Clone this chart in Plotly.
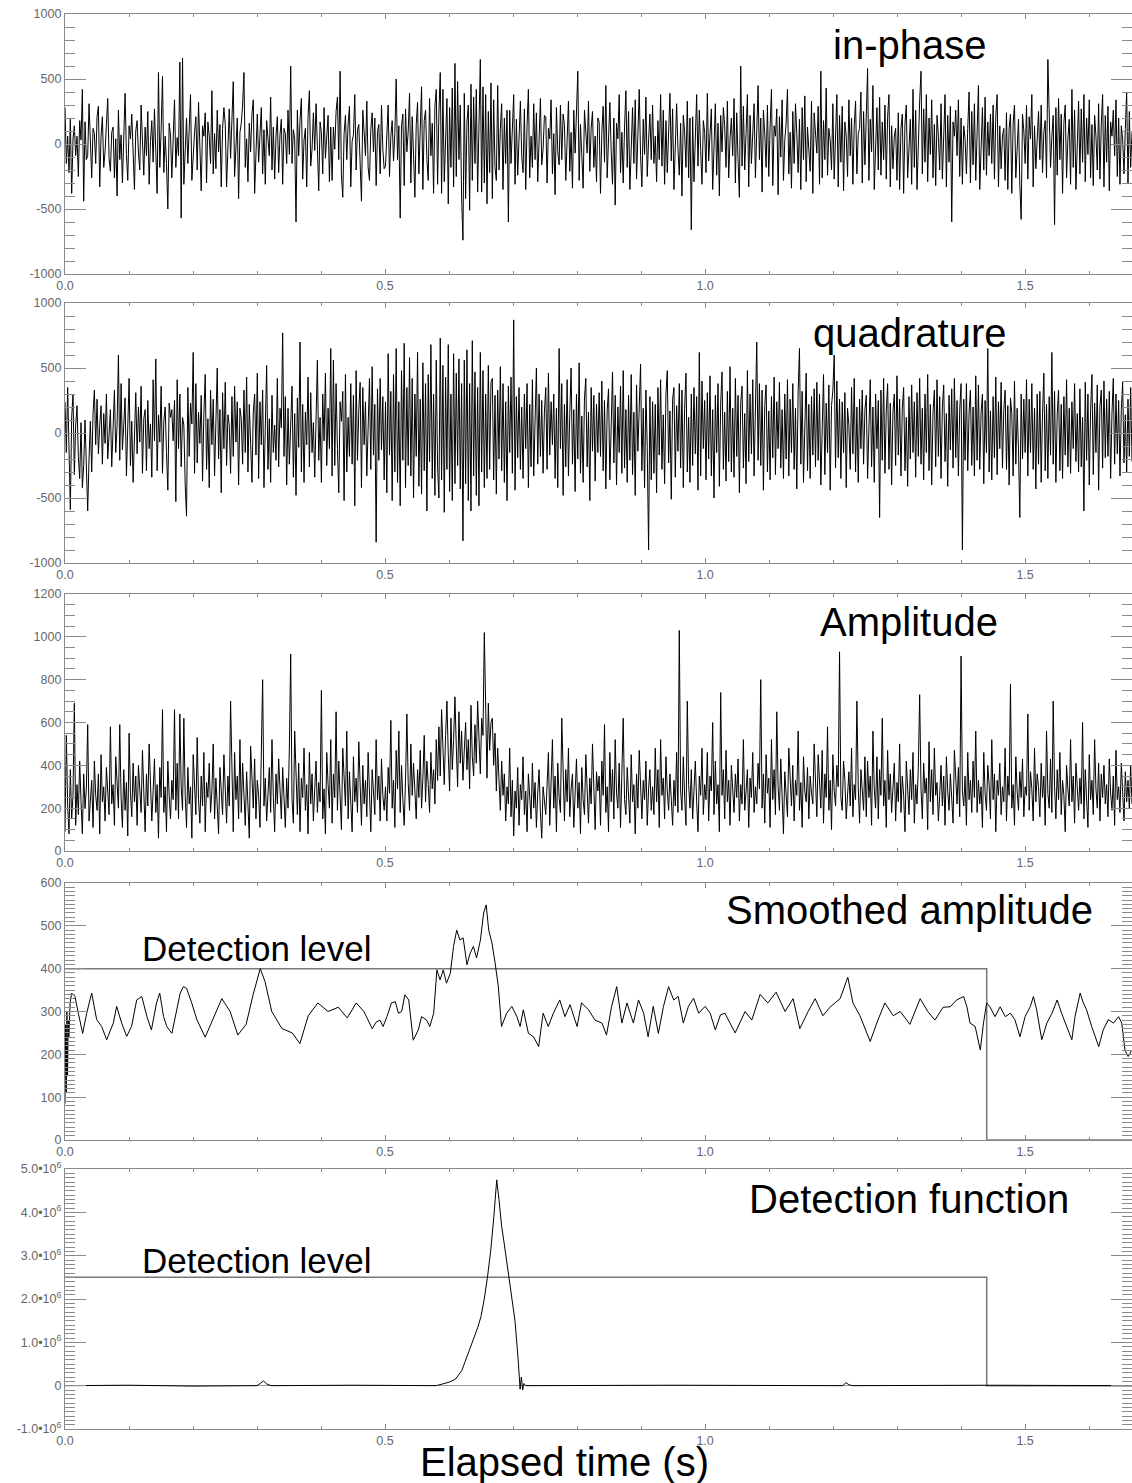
import numpy as np
import plotly.graph_objects as go

# ---------------- data ----------------
T_MAX = 1.667             # s, right edge of the time axis (last raw sample)

inphase = [
    280, -150, 60, -220, 190, -380, 40, 140, -90, 60, -250, 180, 30, 420, -440, 170, -120, -90, 310, -60,
    -260, 120, 80, -150, 210, 290, -330, 60, 210, -180, -60, 150, 350, -110, -210, 90, 130, -260, 40, -400,
    260, -120, 70, -300, 180, 390, -80, -280, 140, 40, 230, -170, -350, 100, 180, -70, -200, 300, 60, -240,
    130, -90, 250, -310, 20, 180, -140, 270, -60, -380, 550, -180, 110, 520, -220, 60, -150, -500, 160, 70,
    -260, 100, 340, -180, 50, -90, 630, -570, 660, -310, 40, 200, -150, 90, 380, -280, -40, 90, 210, -200,
    320, -120, -360, 140, 60, 240, -300, 170, 60, -150, 410, -230, 80, -190, 260, -60, 150, -330, 120, 280,
    150, -330, 20, 270, -110, 190, 480, -250, -70, 200, -420, 90, 160, 300, 550, -180, 40, -290, 160, -60,
    230, 340, -380, -120, 230, -140, 70, 280, -230, 110, -310, 180, 40, -90, 360, -200, 130, -270, 60, 210,
    -220, 70, 190, -310, 120, 80, -150, 260, -80, 600, -150, 110, 40, -600, 260, -90, 180, 350, -270, 30,
    120, -330, 210, 410, -170, -40, 240, -50, 310, -140, -360, 170, 90, -230, 280, -110, 60, 220, -290, 130,
    -280, 130, -40, 250, 360, -120, 560, -240, -410, 80, 220, -120, 150, 290, -330, 20, 70, 380, -200, 110,
    150, -90, -440, 260, 60, -90, 330, -180, -280, 110, 240, -60, 200, -320, 90, 150, -230, 300, -40, -190,
    -170, 120, 300, -250, 60, 180, -130, 80, 500, -120, 140, -570, 140, 230, -320, 270, -60, 100, 390, -300,
    210, -80, -410, 150, 320, -230, 40, 440, -350, 180, 260, -120, -280, 350, -90, 160, -380, 290, 420, -310,
    240, 550, -380, 420, -290, 150, 350, -460, 280, -180, 430, -330, 620, -250, 480, -120, 300, -410, -740, 390,
    -420, 170, 300, -510, 460, -280, 360, -150, 420, -370, 200, 650, -370, 440, -300, 380, -460, 250, -220, 470,
    -420, 340, -180, -280, 450, -200, 120, 310, -350, 200, -150, 260, -600, 260, -150, 80, 380, -310, 190, -240,
    70, 330, -90, -220, 270, -350, 140, 420, -260, 60, -180, 310, -120, 240, -290, 90, 350, -160, -40, 220,
    210, -300, 120, 40, 340, -230, 80, -390, 280, -60, -160, 300, -120, 230, 150, -280, 60, 330, -210, 90,
    -340, 260, -70, 180, 560, -280, 150, -80, -340, 260, 40, -70, 330, -210, 120, 250, -180, 60, -290, 200,
    170, -380, 90, 290, -140, 450, -260, 100, 320, -60, -310, 200, -470, 160, 40, 380, -220, 90, -300, 130,
    410, -180, 250, -350, 60, 280, -150, 340, -270, 130, 420, -90, -330, 190, -80, 360, -250, 30, 230, -120,
    300, -150, 60, -290, 180, -120, 380, -170, 260, -310, 180, -220, 60, 390, -130, 270, -350, 100, 310, -40,
    -240, 160, -400, 220, 90, -180, 330, -260, 200, -660, 210, -290, 120, 380, -170, 260, -50, -310, 180, 90,
    -220, 390, -130, 50, 270, -350, 100, 310, -240, 160, -400, 220, -60, 280, 140, -180, 330, -260, 40, 200,
    -90, 350, -300, 240, -120, -410, 600, -170, 290, -200, 80, 380, -330, 220, -150, 60, 310, -260, 150, 450,
    -120, 200, -370, 260, 80, -180, 300, -250, 130, 420, -320, 140, 60, 270, -390, 210, -100, 340, -280, 30,
    160, 420, -230, 90, -340, 250, -150, 310, 80, -220, 190, -350, 280, -120, 370, -290, 130, -40, -210, 330,
    -380, 240, 70, -70, 290, -310, 560, -260, 180, -120, 430, -240, 120, 30, -200, 310, -270, 150, 380, -330,
    220, -140, 290, -360, 170, 60, -250, 340, -90, 200, -310, 140, 330, -230, 80, 120, 400, -300, 250, -160,
    310, 580, -280, 190, -60, 450, -350, 80, 280, -200, 360, -240, 170, -120, 300, -270, 210, 380, -330, 140,
    -190, 60, 120, -280, 240, -350, 120, 230, -380, 160, 300, -260, 40, 190, -310, 420, -180, 260, -350, 120,
    330, 560, -230, 270, -140, 380, -290, 200, -80, 340, -260, 150, -320, 220, 60, -200, 310, -270, 150, 380,
    -330, 220, -140, 290, -600, 170, 60, 260, -90, 340, -250, 200, -310, 140, 40, -230, 120, 400, -300, 250,
    -160, 310, -280, 190, 450, -350, 80, 280, -200, 360, -240, 170, -90, 230, -150, 300, -270, 210, 380, -330,
    140, -190, 60, 120, -280, 240, -350, 120, 230, -380, 160, 300, -260, 40, 190, -310, -580, 230, 100, -150,
    300, -270, 210, 40, 380, -330, 140, -190, 70, 250, -120, 300, -220, 90, 180, -260, 650, 120, -180, 60,
    220, -620, 280, -240, 350, -120, 230, -380, 160, 300, -260, 40, 190, -310, 420, -180, 260, -350, 120, 330,
    -230, 270, -140, 380, -290, 200, -80, 340, -260, 150, -320, 220, 60, -200, 310, -270, 150, 380, -330, 220,
    -140, 290, -360, 170, 60, 260, -90, 340, -250, 200, -310, 140, 40, -230, 120, 400, -300, 250, -180, 90,
]

quadrature = [
    240, -150, 350, -280, -590, 120, 300, -320, 60, 210, -180, -350, 80, -420, -250, 100, -380, -600, -200, 90,
    -300, 150, 330, -90, 260, -160, 60, 210, -240, 150, -80, 300, -200, 40, 180, -260, 120, 330, -150, 60,
    600, -210, 380, -130, 60, 270, -330, 160, 420, -250, 90, -380, 40, 310, -160, 200, -70, 360, -310, 110,
    180, -290, 250, -120, 70, -340, 410, -60, 570, -290, 140, -70, 360, -310, 90, 200, -150, -440, 230, 120,
    180, -60, 250, -528, 410, -120, 300, -260, 120, 60, -400, -640, 350, -180, 230, 70, 620, -310, 380, -230,
    160, -80, 290, -370, 150, 450, -280, 110, -420, 330, -90, 260, -330, 40, 500, -200, 180, -460, 310, -120,
    390, -250, 140, 60, -310, 280, -180, 360, -70, 240, -400, 190, 110, -240, 330, -150, 430, -300, 220, -80,
    -380, 160, 300, -170, 460, -350, 240, -90, 330, -420, 170, 520, -280, 110, -380, 290, -150, 60, -210, 420,
    -260, 190, 40, 770, -180, 280, -400, 190, -240, 60, 360, -340, 150, -480, 270, -110, 700, -300, 220, -380,
    160, -90, 430, -260, 310, -150, 80, -340, 240, 560, -210, 120, -380, 300, -60, 460, -250, 190, -120, 650,
    -330, 560, -250, 380, -120, -460, 240, 90, 320, -520, 450, -300, 120, -180, 380, -240, 290, -560, 480, -210,
    170, 390, -420, 350, -90, 240, -330, 60, 420, -280, 510, -170, 220, -840, 340, -210, 420, -130, 280, -360,
    240, -460, 610, -170, 320, -520, 450, -300, 650, -380, 240, -560, 480, -210, 690, -420, 350, -250, 580, -330,
    420, -500, 300, -180, 620, -410, 260, -470, 540, -290, 380, -600, 450, -220, 680, -350, 300, -480, 560, -260,
    -500, 730, -360, 520, -610, 430, -280, 680, -450, 300, -520, 610, -390, 460, -250, 570, -430, 380, -830, 560,
    -390, 640, -520, 380, -600, 710, -330, 470, -480, 350, -560, 620, -300, 480, -420, 300, -350, 520, -280, 390,
    420, -360, 290, -470, 330, -200, 510, -290, 380, -380, 240, -520, 360, -150, 430, -310, 870, -440, 280, -190,
    350, -280, 200, -350, 300, -120, 380, -420, 220, -260, 410, -330, 150, 500, -240, 300, -180, 250, -310, 160,
    350, -280, 460, -170, 240, -90, 300, -350, 190, -420, 650, -120, 380, -480, 220, -260, 410, -330, 150, 500,
    -240, 180, -450, 300, -200, 540, -310, 130, -380, 270, 420, -260, 160, -520, 350, -140, 290, -370, 220, -150,
    310, -180, 400, -290, 250, -430, 170, 340, -360, 110, 470, -230, 290, -400, 200, -150, 360, -310, 480, -270,
    180, -380, 290, -210, 450, -320, 160, -480, 370, -140, 260, 530, -290, 190, -420, 330, -110, -900, 280, -360,
    240, -310, 220, -460, 350, -170, 410, -280, 140, -390, 300, 480, -230, 170, -510, 260, 350, -340, 210, -140,
    380, -270, 330, -420, 190, 460, -300, 120, -380, 300, -250, 350, -160, 280, -440, 620, -330, 400, -120, 250,
    -360, 310, -200, 440, -330, 180, -500, 290, -150, 380, -410, 230, 470, -280, 160, -370, 320, -220, 510, -300,
    190, -340, 420, -180, 290, -460, 230, 360, -270, 150, -390, 480, -220, 300, -160, 410, -330, 250, 700, -210,
    380, -250, 330, -440, 210, 370, -300, 170, -360, 280, -190, 430, -320, 240, -120, 390, -270, 180, -350, 300,
    -200, 410, -330, 260, -150, 380, -280, 190, -430, 320, 650, -240, 320, -380, 150, 460, -290, 220, -350, 280,
    -170, 340, -260, 390, -210, 300, -400, 180, 450, -320, 230, -150, 370, -440, 210, 330, 600, -270, 400, -190,
    260, -350, 240, -150, 310, -420, 190, 60, -280, 350, -160, 420, -300, 200, -380, 260, -120, 330, -240, 180,
    290, -350, 150, 410, -260, 200, -380, 300, -120, 250, -650, 330, -210, 420, -310, 170, 380, -280, 230, -400,
    160, 300, -250, 440, -170, 260, -330, 190, 350, -290, 120, -410, 280, -200, 370, -150, 240, -340, 310, -180,
    420, -240, 190, -360, 300, -150, 450, -290, 220, -400, 160, 330, -260, 410, -180, 280, -350, 200, 370, -220,
    150, -410, 290, -130, 340, -270, 420, -190, 250, -330, 180, 380, -900, 260, -210, 380, -290, 160, 330, -250,
    200, -330, 440, -210, 370, -280, 160, 300, -390, 250, -150, 650, -300, 170, -360, 280, -190, 430, -320, 240,
    -120, 390, -270, 180, 330, -280, 210, -400, 270, 150, -330, 400, -240, 190, -120, -650, 300, -200, 260, -150,
    410, -330, 260, -150, 380, -280, 190, -430, 300, -240, 320, -380, 150, 460, -290, 220, -350, 280, -170, 620,
    -240, 320, -380, 150, 330, -290, 220, -350, 280, -170, 410, -260, 190, -310, 240, -120, 380, -220, 150, -300,
    340, -260, 120, -600, 390, -210, 300, -400, 180, 450, -320, 230, -150, 370, -440, 210, 330, -270, 400, -190,
    260, -180, 320, -350, 150, 420, -240, 300, -160, 250, -330, 180, 390, -230, 140, -300, 260, -180, 350, -220,
]

amplitude = [
    90, 540, 210, 80, 380, 150, 260, 690, 120, 310, 170, 420, 230, 80, 360, 200, 290, 590, 140, 270,
    330, 110, 420, 260, 190, 360, 80, 450, 230, 300, 140, 390, 250, 170, 580, 220, 310, 120, 440, 280,
    200, 590, 250, 110, 380, 190, 320, 70, 550, 270, 160, 410, 230, 350, 120, 400, 290, 180, 470, 240,
    90, 360, 210, 500, 300, 140, 280, 430, 180, 310, 60, 390, 250, 660, 180, 300, 90, 420, 260, 150,
    330, 240, 660, 190, 410, 150, 640, 300, 190, 620, 260, 110, 390, 220, 300, 60, 450, 280, 170, 530,
    240, 130, 350, 210, 460, 90, 320, 250, 410, 180, 280, 500, 150, 340, 230, 80, 390, 270, 170, 450,
    260, 130, 350, 210, 700, 320, 90, 460, 240, 350, 150, 520, 180, 410, 280, 120, 370, 230, 60, 490,
    300, 200, 430, 150, 330, 260, 110, 480, 800, 210, 340, 140, 270, 390, 180, 520, 250, 90, 360, 220,
    430, 260, 150, 390, 280, 110, 340, 200, 480, 920, 240, 130, 560, 300, 170, 410, 90, 340, 250, 480,
    190, 310, 80, 460, 220, 360, 140, 290, 420, 180, 320, 230, 750, 150, 290, 80, 460, 310, 200, 520,
    130, 360, 250, 650, 190, 420, 290, 100, 480, 330, 210, 560, 150, 370, 260, 90, 440, 230, 340, 180,
    510, 280, 120, 400, 220, 330, 160, 460, 250, 90, 380, 290, 170, 520, 240, 350, 140, 430, 260, 190,
    300, 140, 390, 270, 610, 200, 330, 110, 470, 290, 560, 180, 400, 240, 120, 330, 640, 320, 190, 500,
    260, 410, 300, 150, 380, 250, 470, 200, 340, 540, 230, 420, 310, 180, 460, 290, 380, 220, 520, 330,
    580, 350, 660, 420, 310, 540, 700, 450, 280, 620, 380, 520, 720, 490, 300, 650, 410, 560, 330, 470,
    600, 380, 520, 290, 680, 440, 350, 590, 410, 700, 480, 360, 620, 540, 1020, 560, 340, 690, 470, 600,
    620, 400, 550, 280, 480, 330, 190, 420, 260, 360, 140, 300, 220, 480, 160, 330, 70, 280, 200, 390,
    120, 310, 240, 440, 170, 280, 90, 360, 230, 150, 410, 200, 320, 110, 270, 380, 180, 60, 300, 240,
    170, 310, 460, 120, 280, 520, 200, 350, 90, 410, 250, 180, 620, 300, 140, 380, 230, 480, 160, 290,
    360, 110, 270, 430, 200, 320, 80, 390, 240, 170, 450, 290, 130, 340, 220, 500, 260, 100, 370, 280,
    350, 120, 420, 260, 590, 180, 300, 90, 460, 230, 380, 150, 520, 270, 200, 410, 110, 340, 620, 240,
    170, 390, 280, 130, 450, 230, 310, 80, 360, 200, 470, 260, 150, 330, 240, 420, 120, 290, 380, 190,
    300, 170, 480, 230, 380, 110, 520, 260, 340, 150, 440, 280, 190, 360, 250, 120, 330, 210, 460, 180,
    1030, 280, 190, 440, 250, 120, 700, 310, 200, 380, 150, 290, 420, 230, 90, 350, 260, 480, 170, 310,
    240, 460, 140, 350, 280, 600, 170, 420, 220, 310, 90, 740, 260, 380, 150, 470, 230, 330, 120, 400,
    290, 180, 360, 250, 430, 140, 310, 220, 520, 190, 280, 380, 110, 340, 250, 460, 180, 300, 220, 410,
    290, 800, 200, 360, 130, 450, 270, 340, 110, 520, 240, 380, 170, 650, 300, 190, 430, 260, 80, 370,
    250, 160, 480, 300, 210, 400, 140, 330, 260, 560, 190, 320, 110, 440, 280, 230, 390, 150, 350, 270,
    220, 500, 310, 160, 450, 280, 200, 470, 130, 360, 250, 580, 190, 330, 100, 450, 280, 210, 400, 300,
    930, 250, 190, 420, 330, 150, 280, 370, 210, 480, 160, 310, 240, 700, 300, 130, 380, 250, 190, 440,
    160, 420, 250, 350, 120, 560, 290, 200, 440, 150, 380, 260, 620, 210, 330, 110, 470, 240, 360, 180,
    290, 410, 140, 320, 230, 500, 180, 350, 260, 90, 420, 300, 170, 380, 240, 460, 130, 310, 220, 390,
    730, 290, 150, 410, 270, 340, 100, 510, 230, 380, 170, 480, 260, 320, 140, 260, 400, 210, 350, 120,
    440, 280, 190, 360, 250, 130, 470, 300, 220, 390, 160, 910, 280, 210, 350, 120, 460, 240, 330, 180,
    420, 250, 560, 180, 330, 220, 300, 110, 460, 270, 190, 400, 310, 150, 520, 240, 360, 90, 330, 260,
    410, 170, 300, 230, 480, 140, 350, 260, 780, 200, 310, 120, 440, 280, 190, 370, 250, 430, 160, 300,
    260, 640, 190, 370, 290, 140, 480, 230, 360, 300, 160, 410, 250, 350, 120, 560, 270, 200, 430, 180,
    700, 300, 150, 380, 240, 460, 170, 330, 260, 90, 400, 290, 210, 520, 230, 350, 130, 410, 270, 190,
    340, 220, 600, 150, 380, 270, 110, 450, 240, 330, 170, 520, 290, 200, 410, 140, 360, 250, 400, 220,
    310, 160, 430, 270, 190, 350, 120, 470, 240, 300, 180, 410, 260, 140, 370, 230, 330, 200, 400, 220,
]

smooth_t = [
    0.000, 0.001, 0.002, 0.003, 0.004, 0.005, 0.006, 0.008, 0.0104, 0.0156, 0.0208, 0.0276, 0.0339,
    0.0417, 0.0495, 0.0573, 0.0651, 0.0755, 0.0807, 0.0885, 0.0964, 0.104, 0.112, 0.120, 0.128, 0.135,
    0.143, 0.148, 0.154, 0.159, 0.167, 0.172, 0.180, 0.185, 0.190, 0.198, 0.206, 0.219, 0.231, 0.245,
    0.258, 0.270, 0.283, 0.294, 0.305, 0.3125, 0.323, 0.339, 0.355, 0.367, 0.380, 0.395, 0.411, 0.427,
    0.441, 0.455, 0.467, 0.480, 0.486, 0.492, 0.497, 0.503, 0.510, 0.516, 0.521, 0.526, 0.531, 0.537,
    0.544, 0.552, 0.557, 0.565, 0.570, 0.576, 0.581, 0.586, 0.591, 0.596, 0.602, 0.607, 0.612, 0.617,
    0.622, 0.628, 0.633, 0.638, 0.643, 0.649, 0.654, 0.658, 0.662, 0.667, 0.672, 0.677, 0.682, 0.690,
    0.698, 0.706, 0.711, 0.716, 0.724, 0.732, 0.740, 0.747, 0.755, 0.763, 0.773, 0.781, 0.789, 0.800,
    0.807, 0.818, 0.828, 0.839, 0.846, 0.854, 0.862, 0.870, 0.878, 0.888, 0.896, 0.904, 0.911, 0.919,
    0.927, 0.935, 0.943, 0.951, 0.958, 0.966, 0.974, 0.982, 0.990, 1.000, 1.008, 1.016, 1.024, 1.031,
    1.039, 1.047, 1.0625, 1.073, 1.086, 1.098, 1.111, 1.125, 1.1375, 1.148, 1.161, 1.172, 1.184, 1.195,
    1.211, 1.223, 1.231, 1.242, 1.258, 1.270, 1.281, 1.294, 1.305, 1.320, 1.336, 1.348, 1.359, 1.372,
    1.383, 1.393, 1.404, 1.409, 1.414, 1.422, 1.430, 1.435, 1.440, 1.445, 1.453, 1.461, 1.469, 1.477,
    1.484, 1.492, 1.500, 1.508, 1.513, 1.518, 1.526, 1.534, 1.542, 1.550, 1.557, 1.565, 1.573, 1.578,
    1.586, 1.591, 1.596, 1.604, 1.615, 1.622, 1.630, 1.638, 1.646, 1.651, 1.656, 1.661, 1.667,
]
smooth_v = [
    85, 270, 110, 300, 150, 280, 240, 320, 343, 335, 296, 249, 296,
    343, 281, 265, 234, 273, 312, 273, 242, 265, 327, 335, 288, 257,
    320, 343, 288, 265, 249, 288, 343, 358, 354, 320, 281, 240, 280, 330,
    300, 245, 270, 340, 400, 370, 300, 260, 250, 225, 290, 320, 300, 310,
    285, 320, 300, 260, 275, 280, 265, 288, 320, 323, 296, 300, 339, 327,
    233, 257, 288, 280, 265, 296, 397, 374, 397, 366, 389, 452, 490, 467,
    472, 409, 436, 452, 425, 467, 530, 549, 490, 460, 413, 358, 265, 296,
    312, 288, 265, 304, 249, 241, 218, 296, 265, 296, 327, 288, 316, 265,
    320, 304, 280, 273, 245, 312, 358, 273, 320, 273, 327, 296, 241, 312,
    249, 312, 358, 327, 335, 273, 312, 331, 296, 312, 296, 257, 292, 296,
    273, 250, 300, 280, 340, 320, 345, 300, 330, 260, 300, 330, 290, 310,
    330, 380, 320, 290, 230, 280, 320, 290, 300, 270, 330, 300, 280, 310,
    311, 327, 335, 311, 273, 265, 210, 273, 320, 311, 288, 311, 288, 296,
    281, 241, 288, 311, 335, 304, 234, 273, 296, 327, 296, 265, 234, 288,
    343, 320, 304, 265, 218, 257, 281, 273, 288, 273, 210, 195, 210,
]

# detection function, in units of 1e6
detfun_t = [
    0.0, 0.10, 0.20, 0.300, 0.305, 0.310, 0.315, 0.322, 0.45, 0.580, 0.590, 0.600, 0.610, 0.615,
    0.620, 0.625, 0.630, 0.635, 0.640, 0.645, 0.650, 0.655, 0.660, 0.665, 0.670, 0.6745, 0.678,
    0.682, 0.686, 0.690, 0.694, 0.698, 0.703, 0.708, 0.711, 0.713, 0.715, 0.717, 0.720, 0.95,
    1.215, 1.220, 1.225, 1.230, 1.45, 1.667,
]
detfun_v = [
    0.0, 0.01, -0.01, 0.0, 0.05, 0.11, 0.04, 0.0, 0.01, 0.0, 0.04, 0.08, 0.15, 0.25,
    0.35, 0.55, 0.75, 0.95, 1.15, 1.35, 1.6, 2.0, 2.5, 3.1, 3.9, 4.75, 4.3,
    3.7, 3.3, 2.9, 2.5, 2.1, 1.5, 0.6, -0.08, 0.2, -0.1, 0.05, 0.0, 0.01,
    0.0, 0.07, 0.02, 0.0, 0.01, 0.0,
]

LEVEL_END_T = 1.44
smooth_level = 400
detfun_level = 2.5e6

panel_labels = ["in-phase", "quadrature", "Amplitude", "Smoothed amplitude", "Detection function"]
level_label = "Detection level"
x_title = "Elapsed time (s)"

# ---------------- layout helpers ----------------
W, H, L = 1132, 1483, 65
panels_px = [(14, 274), (303, 563), (594, 851), (883, 1140), (1169, 1429)]


def py(y):
    return 1 - y / H


def pxx(x):
    return (x - L) / (W - L)


AX = "#8a8a8a"
TICKFONT = dict(family="Liberation Sans, Arial, sans-serif", size=12.5, color="#666666")
TXTFONT = "Liberation Sans, Arial, sans-serif"

fig = go.Figure()
line_k = dict(color="black", width=1)
for arr, n in [(inphase, ""), (quadrature, "2"), (amplitude, "3")]:
    t = np.linspace(0, T_MAX, len(arr))
    fig.add_trace(go.Scatter(x=t, y=arr, mode="lines", line=line_k, xaxis="x" + n, yaxis="y" + n))

lev_t = [0, LEVEL_END_T, LEVEL_END_T, T_MAX]
fig.add_trace(go.Scatter(x=lev_t, y=[smooth_level, smooth_level, 0, 0], mode="lines",
                         line=dict(color="#777777", width=1.5), xaxis="x4", yaxis="y4"))
fig.add_trace(go.Scatter(x=smooth_t, y=smooth_v, mode="lines", line=line_k, xaxis="x4", yaxis="y4"))

fig.add_trace(go.Scatter(x=lev_t, y=[detfun_level, detfun_level, 0, 0], mode="lines",
                         line=dict(color="#777777", width=1.5), xaxis="x5", yaxis="y5"))
fig.add_trace(go.Scatter(x=detfun_t, y=np.array(detfun_v) * 1e6, mode="lines", line=line_k,
                         xaxis="x5", yaxis="y5"))

yspecs = [
    dict(range=[-1000, 1000], tickvals=[-1000, -500, 0, 500, 1000], minor=100),
    dict(range=[-1000, 1000], tickvals=[-1000, -500, 0, 500, 1000], minor=100),
    dict(range=[0, 1200], tickvals=[0, 200, 400, 600, 800, 1000, 1200], minor=50),
    dict(range=[0, 600], tickvals=[0, 100, 200, 300, 400, 500, 600], minor=10),
    dict(range=[-1e6, 5e6], tickvals=[-1e6, 0, 1e6, 2e6, 3e6, 4e6, 5e6], minor=1e5),
]
for s in yspecs[:4]:
    s["ticktext"] = ["%d" % v for v in s["tickvals"]]
yspecs[4]["ticktext"] = ["-1.0\u202210<sup>6</sup>", "0"] + [
    "%.1f\u202210<sup>6</sup>" % v for v in [1, 2, 3, 4, 5]]

layout = dict(width=W, height=H, margin=dict(l=L, r=0, t=0, b=0, autoexpand=False),
              paper_bgcolor="white", plot_bgcolor="white", showlegend=False)

for i, (top, bot) in enumerate(panels_px):
    n = "" if i == 0 else str(i + 1)
    spec = yspecs[i]
    layout["xaxis" + n] = dict(
        range=[0, T_MAX], domain=[0, 1], anchor="y" + n, showline=True, linecolor=AX, linewidth=1.2,
        mirror="allticks", ticks="inside", ticklen=5, tickcolor=AX, tickwidth=1,
        tickvals=[0, 0.5, 1.0, 1.5], ticktext=["0.0", "0.5", "1.0", "1.5"],
        minor=dict(tick0=0, dtick=0.1, ticklen=3, ticks="inside", tickcolor=AX),
        showgrid=False, zeroline=False, tickfont=TICKFONT, automargin=False)
    ya = dict(
        range=spec["range"], domain=[py(bot), py(top)], anchor="x" + n, showline=True, linecolor=AX,
        linewidth=1.2, mirror="allticks", ticks="inside", ticklen=21, tickcolor=AX, tickwidth=1.2,
        tickvals=spec["tickvals"], ticktext=spec["ticktext"], showgrid=False, zeroline=False,
        tickfont=TICKFONT, automargin=False,
        minor=dict(tick0=0, dtick=spec["minor"], ticklen=10, ticks="inside", tickcolor=AX, tickwidth=1))
    if i == 4:
        ya["zeroline"] = True
        ya["zerolinecolor"] = "#9a9a9a"
        ya["zerolinewidth"] = 1
    layout["yaxis" + n] = ya

annotations = []
label_y = [45, 333, 622, 910, 1199]
for txt, yy in zip(panel_labels, label_y):
    annotations.append(dict(text=txt, x=pxx(909), y=py(yy), xref="paper", yref="paper",
                            xanchor="center", yanchor="middle", showarrow=False,
                            font=dict(family=TXTFONT, size=40, color="black")))
for yy in [948, 1260]:
    annotations.append(dict(text=level_label, x=pxx(257), y=py(yy), xref="paper", yref="paper",
                            xanchor="center", yanchor="middle", showarrow=False,
                            font=dict(family=TXTFONT, size=35, color="black")))
annotations.append(dict(text=x_title, x=pxx(564), y=py(1462), xref="paper", yref="paper",
                        xanchor="center", yanchor="middle", showarrow=False,
                        font=dict(family=TXTFONT, size=40, color="black")))
layout["annotations"] = annotations

fig.update_layout(**layout)
fig.write_html("out.html")
